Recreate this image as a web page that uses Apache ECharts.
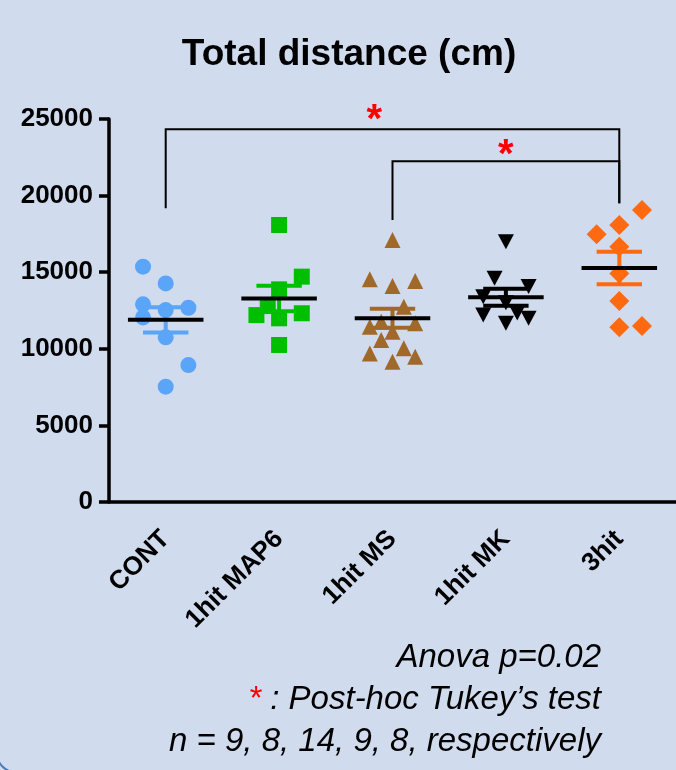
<!DOCTYPE html>
<html>
<head>
<meta charset="utf-8">
<script src="https://cdn.jsdelivr.net/npm/echarts@6/dist/echarts.min.js"></script>
<style>
  html, body { margin: 0; padding: 0; background: #D0DBEE; }
  #chart { width: 676px; height: 770px; }
</style>
</head>
<body>
<div id="chart"></div>
<script>
// groups on the x axis
var categories = ['CONT', '1hit MAP6', '1hit MS', '1hit MK', '3hit'];

// individual animals (cm) and their horizontal scatter offset (category units)
var contValues = [15360, 14270, 12900, 12530, 12680, 12050, 10750, 8940, 7530];
var contJitter = [-0.2, 0, -0.2, 0, 0.2, -0.2, 0, 0.2, 0];

var map6Values = [18080, 14710, 13880, 12790, 12200, 11990, 12320, 10250];
var map6Jitter = [0, 0.2, 0, -0.1, -0.2, 0, 0.2, 0];

var msValues = [17100, 14540, 14100, 14430, 12750, 11770, 11440, 11660, 11120, 10570, 10030, 9700, 9480, 9160];
var msJitter = [0, -0.2, 0, 0.2, 0.1, -0.1, -0.2, 0.2, 0, -0.1, 0.1, -0.2, 0.2, 0];

var mkValues = [16990, 14600, 14060, 13400, 13000, 12340, 12200, 12000, 11660];
var mkJitter = [0, -0.1, 0.2, -0.2, 0, 0.1, -0.2, 0.2, 0];

var hit3Values = [19060, 18080, 17470, 16660, 14920, 13120, 11400, 11490];
var hit3Jitter = [0.2, 0, -0.2, 0, 0, 0, 0, 0.2];

// significance brackets: from group, to group, bar height, leg ends
var bracketFrom = [0, 2];
var bracketTo = [4, 4];
var bracketTop = [24330, 22250];
var bracketLegFrom = [19170, 18400];
var bracketLegTo = [19500, 19500];
var starX = [1.84, 3.0];
var starY = [25450, 23200];

var yTicks = [0, 5000, 10000, 15000, 20000, 25000];

var groupValues = [contValues, map6Values, msValues, mkValues, hit3Values];
var groupJitter = [contJitter, map6Jitter, msJitter, mkJitter, hit3Jitter];
var groupColors = ['#5AA5F7', '#00BF00', '#A0692A', '#000000', '#FF6A10'];
var groupSymbols = ['circle', 'rect', 'triangle', 'triangle', 'diamond'];
var groupSymbolSize = [16, 16, [16, 16], [16, 15], [20, 20]];
var groupSymbolRotate = [0, 0, 0, 180, 0];

var FONT = '"Liberation Sans", Arial, sans-serif';

function meanSem(arr) {
    var n = arr.length;
    var m = arr.reduce(function (a, b) { return a + b; }, 0) / n;
    var ss = 0;
    arr.forEach(function (v) { ss += (v - m) * (v - m); });
    var sd = Math.sqrt(ss / (n - 1));
    return [m, sd / Math.sqrt(n)];
}

var chart = echarts.init(document.getElementById('chart'), null, { renderer: 'canvas' });

var series = [];
groupValues.forEach(function (vals, g) {
    series.push({
        type: 'scatter',
        xAxisIndex: 1,
        yAxisIndex: 0,
        symbol: groupSymbols[g],
        symbolSize: groupSymbolSize[g],
        symbolRotate: groupSymbolRotate[g],
        itemStyle: { color: groupColors[g], opacity: 1 },
        data: vals.map(function (v, i) { return [g + groupJitter[g][i], v]; }),
        z: 2
    });
});

var statsData = groupValues.map(function (vals, g) {
    var s = meanSem(vals);
    return [g, s[0], s[1]];
});

series.push({
    type: 'custom',
    xAxisIndex: 1,
    yAxisIndex: 0,
    z: 5,
    clip: false,
    data: statsData,
    renderItem: function (params, api) {
        var g = api.value(0), m = api.value(1), s = api.value(2);
        var color = groupColors[g];
        var pMean = api.coord([g, m]);
        var pHi = api.coord([g, m + s]);
        var pLo = api.coord([g, m - s]);
        var half = api.size([0.333, 0])[0];
        var cap = api.size([0.2, 0])[0];
        return {
            type: 'group',
            children: [
                { type: 'line', shape: { x1: pHi[0], y1: pHi[1], x2: pLo[0], y2: pLo[1] },
                  style: { stroke: color, lineWidth: 4 } },
                { type: 'line', shape: { x1: pHi[0] - cap, y1: pHi[1], x2: pHi[0] + cap, y2: pHi[1] },
                  style: { stroke: color, lineWidth: 4 } },
                { type: 'line', shape: { x1: pLo[0] - cap, y1: pLo[1], x2: pLo[0] + cap, y2: pLo[1] },
                  style: { stroke: color, lineWidth: 4 } },
                { type: 'line', shape: { x1: pMean[0] - half, y1: pMean[1], x2: pMean[0] + half, y2: pMean[1] },
                  style: { stroke: '#000', lineWidth: 4 } }
            ]
        };
    }
});

series.push({
    type: 'custom',
    xAxisIndex: 1,
    yAxisIndex: 0,
    z: 6,
    clip: false,
    data: bracketFrom.map(function (f, i) {
        return [f, bracketTo[i], bracketTop[i], bracketLegFrom[i], bracketLegTo[i], starX[i], starY[i]];
    }),
    renderItem: function (params, api) {
        var a = api.coord([api.value(0), api.value(3)]);
        var b = api.coord([api.value(0), api.value(2)]);
        var c = api.coord([api.value(1), api.value(2)]);
        var d = api.coord([api.value(1), api.value(4)]);
        var st = api.coord([api.value(5), api.value(6)]);
        return {
            type: 'group',
            children: [
                { type: 'polyline', shape: { points: [a, b, c, d] },
                  style: { stroke: '#000', lineWidth: 2, fill: null } },
                { type: 'text', x: st[0], y: st[1] + 9,
                  style: { text: '*', fill: '#FF0000', font: 'bold 40px ' + FONT,
                           textAlign: 'center', textVerticalAlign: 'middle' } }
            ]
        };
    }
});

var option = {
    backgroundColor: '#D0DBEE',
    animation: false,
    grid: { left: 109, top: 119, width: 572, height: 383, containLabel: false },
    xAxis: [
        {
            type: 'category',
            data: categories,
            boundaryGap: true,
            axisLine: { lineStyle: { color: '#000', width: 3.5 } },
            axisTick: { alignWithLabel: true, length: 9, lineStyle: { color: '#000', width: 3.5 } },
            axisLabel: {
                interval: 0,
                rotate: 45,
                margin: 33,
                color: '#000',
                fontFamily: FONT,
                fontWeight: 'bold',
                fontSize: 26
            },
            splitLine: { show: false }
        },
        {
            type: 'value',
            min: -0.5,
            max: 4.5,
            show: false
        }
    ],
    yAxis: {
        type: 'value',
        min: yTicks[0],
        max: yTicks[yTicks.length - 1],
        interval: yTicks[1] - yTicks[0],
        axisLine: { show: true, onZero: false, lineStyle: { color: '#000', width: 3.5 } },
        axisTick: { show: true, length: 10, lineStyle: { color: '#000', width: 3.5 } },
        axisLabel: {
            margin: 16,
            color: '#000',
            fontFamily: FONT,
            fontWeight: 'bold',
            fontSize: 26,
            formatter: function (v) { return String(v); }
        },
        splitLine: { show: false }
    },
    graphic: [
        {
            type: 'text', x: 349, y: 55,
            style: { text: 'Total distance (cm)', font: 'bold 37px ' + FONT, fill: '#000',
                     textAlign: 'center', textVerticalAlign: 'middle' }
        },
        {
            type: 'text', x: 601, y: 658,
            style: { text: 'Anova p=0.02', font: 'italic 33px ' + FONT, fill: '#000',
                     textAlign: 'right', textVerticalAlign: 'middle' }
        },
        {
            type: 'text', x: 601, y: 700,
            style: {
                text: '{s|*} : Post-hoc Tukey\u2019s test',
                font: 'italic 33px ' + FONT, fill: '#000',
                textAlign: 'right', textVerticalAlign: 'middle',
                rich: { s: { fill: '#FF0000', font: 'italic 33px ' + FONT } }
            }
        },
        {
            type: 'text', x: 601, y: 742,
            style: { text: 'n = 9, 8, 14, 9, 8, respectively', font: 'italic 33px ' + FONT, fill: '#000',
                     textAlign: 'right', textVerticalAlign: 'middle' }
        },
        {
            type: 'rect',
            shape: { x: -3.4, y: -20, width: 700, height: 792.4, r: 20 },
            style: { fill: null, stroke: '#4A7EBB', lineWidth: 2 },
            silent: true
        }
    ],
    series: series
};

chart.setOption(option);
</script>
</body>
</html>
